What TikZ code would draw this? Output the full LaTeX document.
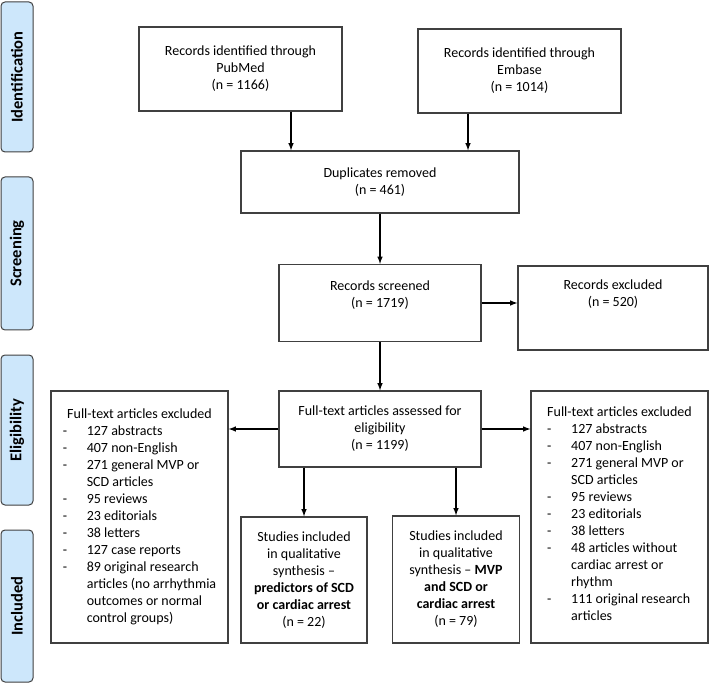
\documentclass[tikz,border=0pt]{standalone}
\usepackage{fontspec}
\setmainfont{Carlito}
\usepackage{tikz}
\usepackage{xcolor}
\usetikzlibrary{shapes.geometric, arrows, positioning}
\definecolor{boxgray}{RGB}{64,64,64}
\definecolor{phaseblue}{RGB}{205,231,251}
\tikzstyle{arrow} = [line width=1.5pt,->,>=latex,draw=black]
\tikzstyle{box} = [draw=boxgray,line width=1.3pt,rectangle,align=center,inner sep=0pt]
\tikzstyle{phase} = [draw=boxgray,line width=1pt,fill=phaseblue,rounded corners=4pt,inner sep=0pt,
  minimum height=32pt,font=\fontsize{16.5}{19}\selectfont\bfseries,rotate=90]
\newcommand{\itm}[1]{\makebox[24pt][l]{-}#1}
\newcommand{\cnt}[1]{\hspace*{24pt}#1}

\begin{document}
\begin{tikzpicture}[x=1pt,y=-1pt,font=\fontsize{14}{17}\selectfont]
    \useasboundingbox (0,0) rectangle (709,684);

    % phases
    \node[phase, minimum width=150pt] (ident) at (17,77) {Identification};
    \node[phase, minimum width=153pt] (screen) at (17,253.5) {Screening};
    \node[phase, minimum width=150pt] (elig) at (17,430) {Eligibility};
    \node[phase, minimum width=152pt] (incl) at (17,606) {Included};

    % flow
    \node[box, minimum width=203pt, minimum height=84pt] (pubmed) at (240.5,69)
        {Records identified through\\PubMed\\(n = 1166)};
    \node[box, minimum width=203pt, minimum height=84pt] (embase) at (519.5,71)
        {Records identified through\\Embase\\(n = 1014)};
    \node[box, minimum width=278pt, minimum height=62pt] (dup) at (380,182)
        {Duplicates removed\\(n = 461)};
    \node[box, minimum width=202pt, minimum height=77pt] (screened) at (380,303)
        {Records screened\\(n = 1719)\\~};
    \node[box, minimum width=190pt, minimum height=84pt] (excl) at (613,308)
        {Records excluded\\(n = 520)\\[12pt]~};
    \node[box, minimum width=202pt, minimum height=76pt] (assessed) at (380,429)
        {Full-text articles assessed for\\eligibility\\(n = 1199)};

    \node[box, minimum width=177pt, minimum height=252pt] (exleft) at (139.5,517) {%
        \begin{tabular}{@{}l@{}}
        \multicolumn{1}{@{}c@{}}{Full-text articles excluded}\\
        \itm{127 abstracts}\\
        \itm{407 non-English}\\
        \itm{271 general MVP or}\\
        \cnt{SCD articles}\\
        \itm{95 reviews}\\
        \itm{23 editorials}\\
        \itm{38 letters}\\
        \itm{127 case reports}\\
        \itm{89 original research}\\
        \cnt{articles (no arrhythmia}\\
        \cnt{outcomes or normal}\\
        \cnt{control groups)}
        \end{tabular}};
    \node[box, minimum width=177pt, minimum height=252pt] (exright) at (619.5,517) {%
        \begin{tabular}{@{}l@{}}
        \multicolumn{1}{@{}c@{}}{Full-text articles excluded}\\
        \itm{127 abstracts}\\
        \itm{407 non-English}\\
        \itm{271 general MVP or}\\
        \cnt{SCD articles}\\
        \itm{95 reviews}\\
        \itm{23 editorials}\\
        \itm{38 letters}\\
        \itm{48 articles without}\\
        \cnt{cardiac arrest or}\\
        \cnt{rhythm}\\
        \itm{111 original research}\\
        \cnt{articles}\\[3pt]
        \end{tabular}};

    \node[box, minimum width=126pt, minimum height=126pt] (study1) at (304,580)
        {Studies included\\in qualitative\\synthesis --\\\textbf{predictors of SCD}\\\textbf{or cardiac arrest}\\(n = 22)};
    \node[box, minimum width=127pt, minimum height=127pt] (study2) at (456,579.5)
        {Studies included\\in qualitative\\synthesis -- \textbf{MVP}\\\textbf{and SCD or}\\\textbf{cardiac arrest}\\(n = 79)};

    \draw[arrow] ([xshift=50.5pt]pubmed.south) -- ([xshift=50.5pt]pubmed.south |- dup.north);
    \draw[arrow] ([xshift=-51.5pt]embase.south) -- ([xshift=-51.5pt]embase.south |- dup.north);
    \draw[arrow] (dup) -- (screened);
    \draw[arrow] (screened.east) -- (screened.east -| excl.west);
    \draw[arrow] (screened) -- (assessed);
    \draw[arrow] (assessed.west) -- (assessed.west -| exleft.east);
    \draw[arrow] (assessed.east) -- (assessed.east -| exright.west);
    \draw[arrow] (assessed.south -| study1.north) -- (study1.north);
    \draw[arrow] (assessed.south -| study2.north) -- (study2.north);
\end{tikzpicture}
\end{document}
